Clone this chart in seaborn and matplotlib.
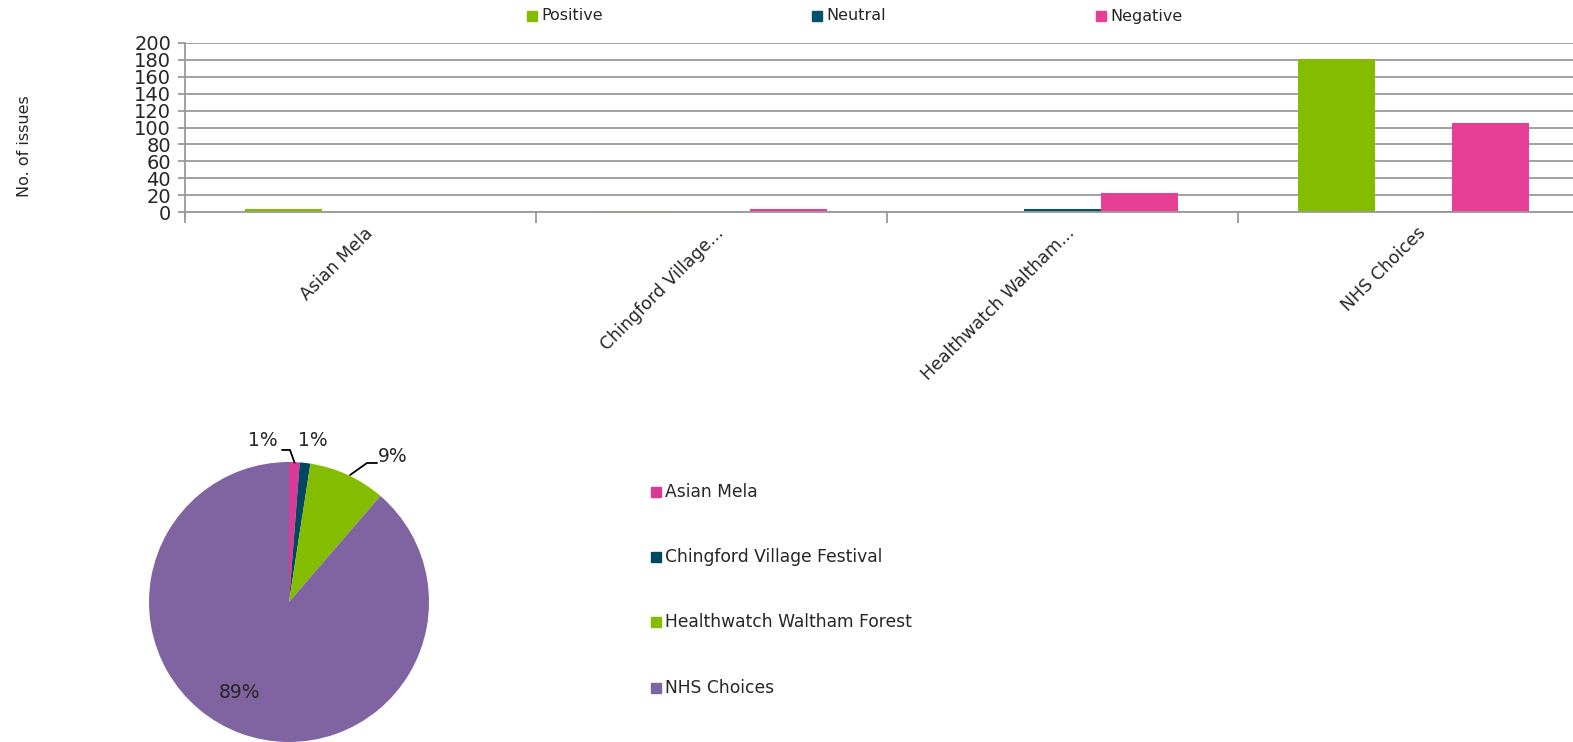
import numpy as np
import pandas as pd
import matplotlib
matplotlib.use("Agg")
import matplotlib.pyplot as plt
import matplotlib.transforms as mtrans
import seaborn as sns

# bar chart data
sources = ["Asian Mela", "Chingford Village...", "Healthwatch Waltham...", "NHS Choices"]
positive = [3, 1, 0, 181]
neutral = [0, 0, 4, 1]
negative = [0, 3, 23, 105]
sentiments = ["Positive", "Neutral", "Negative"]

# pie data
pie_labels = ["Asian Mela", "Chingford Village Festival", "Healthwatch Waltham Forest", "NHS Choices"]
pie_values = [4, 4, 29, 290]
pie_pct = ["1%", "1%", "9%", "89%"]

sent_colors = ["#84BD00", "#00536E", "#E83F96"]
pie_colors = ["#D93A98", "#00475F", "#84BD00", "#8064A2"]
grid_c = "#9A9A9A"

sns.set_style("white")
plt.rcParams['font.family'] = ['DejaVu Sans']

df = pd.DataFrame({
    "source": np.repeat(sources, 3),
    "sentiment": sentiments * len(sources),
    "count": np.ravel(np.column_stack([positive, neutral, negative])),
})

W, H = 1573, 742
fig = plt.figure(figsize=(W / 100, H / 100), dpi=100)
# axis extends past the right edge of the picture, as in the original
ax = fig.add_axes([185 / W, 1 - 212 / H, 1404 / W, 169 / H])

sns.barplot(data=df, x="source", y="count", hue="sentiment", hue_order=sentiments,
            palette=sent_colors, width=0.66, saturation=1, ax=ax, legend=False,
            linewidth=0)

ax.set_ylim(0, 200)
ax.set_xlim(-0.5, len(sources) - 0.5)
ax.set_yticks(range(0, 201, 20))
ax.yaxis.grid(True, color=grid_c, linewidth=1.3)
ax.set_axisbelow(True)
for s in ["top", "right"]:
    ax.spines[s].set_visible(False)
for s in ["left", "bottom"]:
    ax.spines[s].set_color(grid_c)
    ax.spines[s].set_linewidth(1.3)
ax.spines["left"].set_bounds(-6, 200)
ax.tick_params(axis="y", left=True, labelsize=14, length=5, width=1.3, color=grid_c, pad=5)
ax.set_xticks(np.arange(len(sources)) - 0.5, minor=True)
ax.set_xticks(range(len(sources)))
ax.tick_params(axis="x", which="major", bottom=False, labelsize=12.5, pad=5)
ax.tick_params(axis="x", which="minor", bottom=True, length=8, width=1.3, color=grid_c)
ax.set_xticklabels(sources, rotation=45, ha="right", rotation_mode="anchor")
shift = mtrans.ScaledTranslation(3 / 100, 0, fig.dpi_scale_trans)
for lab in ax.get_xticklabels():
    lab.set_transform(lab.get_transform() + shift)
ax.set_xlabel("")
ax.set_ylabel("")
fig.text(25 / W, 1 - 146 / H, "No. of issues", rotation=90, fontsize=11.5,
         ha="center", va="center")

# top legend
for x0, lab, col in zip([527, 812, 1096], sentiments, sent_colors):
    fig.patches.append(plt.Rectangle((x0 / W, 1 - 21 / H), 10 / W, 10 / H,
                                     transform=fig.transFigure, color=col, figure=fig))
    fig.text((x0 + 14) / W, 1 - 16 / H, lab, fontsize=11.5, va="center", ha="left")

# pie chart
pax = fig.add_axes([149 / W, 0.0, 280 / W, 280 / H])
pax.pie(pie_values, colors=pie_colors, startangle=90, counterclock=False,
        radius=1, wedgeprops=dict(linewidth=0))
pax.set_xlim(-1, 1)
pax.set_ylim(-1, 1)
pax.set_aspect("equal")

# percentage labels with leader lines
tk = dict(fontsize=13.5, ha="center", va="center")
pax.text(-0.19, 1.15, pie_pct[0], **tk)
pax.plot([-0.05, 0.007, 0.04], [1.086, 1.086, 0.995], color="black", lw=1.3, clip_on=False)
pax.text(0.17, 1.15, pie_pct[1], **tk)
pax.text(0.74, 1.04, pie_pct[2], **tk)
pax.plot([0.436, 0.557, 0.629], [0.907, 0.993, 0.993], color="black", lw=1.3, clip_on=False)
pax.text(-0.35, -0.65, pie_pct[3], **tk)

# pie legend
for yc, lab, col in zip([492, 557, 622, 688], pie_labels, pie_colors):
    fig.patches.append(plt.Rectangle((651 / W, 1 - (yc + 5) / H), 10 / W, 10 / H,
                                     transform=fig.transFigure, color=col, figure=fig))
    fig.text(665 / W, 1 - yc / H, lab, fontsize=12.3, va="center", ha="left")

fig.savefig("out.png", dpi=100)
